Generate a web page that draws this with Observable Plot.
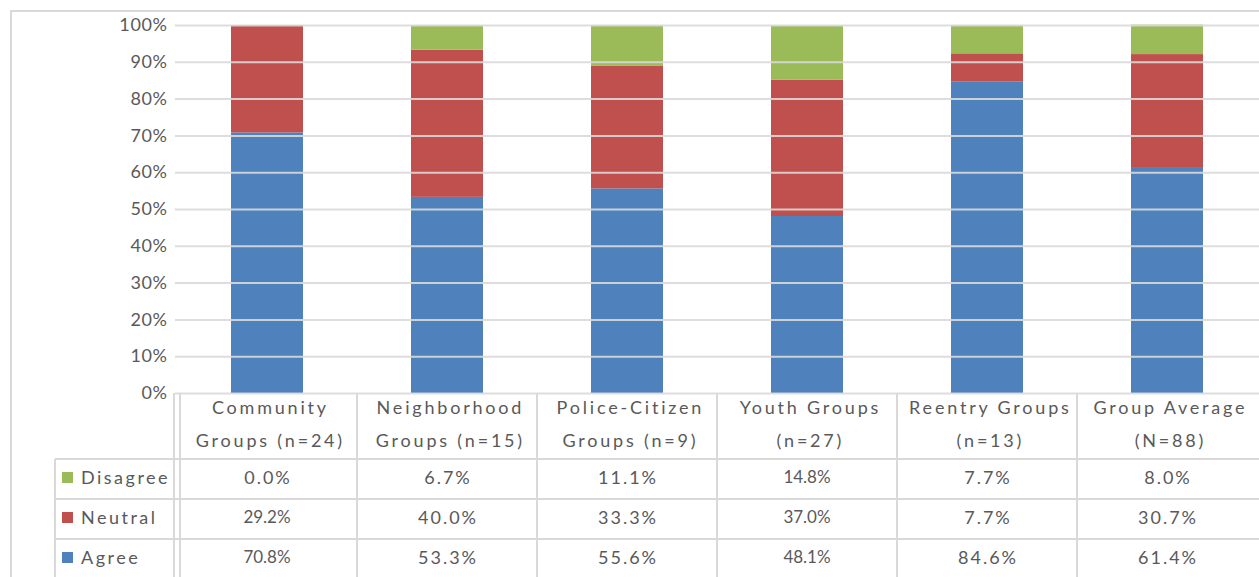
<!DOCTYPE html>
<html>
<head>
<meta charset="utf-8">
<script src="https://cdn.jsdelivr.net/npm/d3@7"></script>
<script src="https://cdn.jsdelivr.net/npm/@observablehq/plot@0.6"></script>
<style>
  html, body { margin: 0; padding: 0; background: #fff; }
  svg { display: block; }
  g[aria-label="y-axis tick label"] text { letter-spacing: 0.6px; }
</style>
</head>
<body>
<div id="chart"></div>
<script>
// Survey groups and their two-line column headers
const groups = [
  "Community Groups (n=24)",
  "Neighborhood Groups (n=15)",
  "Police-Citizen Groups (n=9)",
  "Youth Groups (n=27)",
  "Reentry Groups (n=13)",
  "Group Average (N=88)"
];
const headerLines = [
  ["Community", "Groups (n=24)"],
  ["Neighborhood", "Groups (n=15)"],
  ["Police-Citizen", "Groups (n=9)"],
  ["Youth Groups", "(n=27)"],
  ["Reentry Groups", "(n=13)"],
  ["Group Average", "(N=88)"]
];

// Response categories, stacked bottom to top
const responses = ["Agree", "Neutral", "Disagree"];
const colors = ["#4F81BD", "#C0504D", "#9BBB59"];

// Percent of respondents per group
const agree    = [70.8, 53.3, 55.6, 48.1, 84.6, 61.4];
const neutral  = [29.2, 40.0, 33.3, 37.0, 7.7, 30.7];
const disagree = [0.0, 6.7, 11.1, 14.8, 7.7, 8.0];

// Y axis ticks (percent)
const yTicks = [0, 10, 20, 30, 40, 50, 60, 70, 80, 90, 100];

const seriesValues = { Agree: agree, Neutral: neutral, Disagree: disagree };
const rows = groups.flatMap((g, i) =>
  responses.map(r => ({ group: g, response: r, value: seriesValues[r][i] }))
);

const W = 1259, H = 577;
const font = "Lato, 'Open Sans', sans-serif";
const textColor = "#595959";
const lineColor = "#d9d9d9";

const chart = Plot.plot({
  width: W,
  height: H,
  marginLeft: 175,
  marginRight: 0,
  marginTop: 25,
  marginBottom: 184,
  style: { fontFamily: font, color: textColor, background: "white" },
  x: { domain: groups, paddingInner: 0.6, paddingOuter: 0.3, axis: null },
  y: { domain: [0, 100], axis: null },
  color: { domain: responses, range: colors },
  marks: [
    Plot.barY(rows, { x: "group", y: "value", fill: "response" }),
    Plot.ruleY(yTicks, { stroke: lineColor, strokeWidth: 2, strokeOpacity: 0.9 }),
    Plot.axisY({
      ticks: yTicks,
      tickFormat: d => d + "%",
      tickSize: 0,
      tickPadding: 8,
      fontSize: 18,
      fill: textColor,
      label: null
    })
  ]
});

// Data table drawn beneath the plot, aligned to the x bands
const svg = d3.select(chart);
const x = chart.scale("x");
const y = chart.scale("y");
const center = g => x.apply(g) + x.bandwidth / 2;
const colLeft = g => center(g) - x.step / 2;
const plotLeft = colLeft(groups[0]);

const tableTop = y.apply(0);
const headerH = 66;
const rowH = 40;
const legendLeft = 55;
const tableOrder = ["Disagree", "Neutral", "Agree"];

const t = svg.append("g").attr("text-anchor", "start");

// Outer chart border
t.append("rect")
  .attr("x", 11).attr("y", 11)
  .attr("width", W).attr("height", H)
  .attr("fill", "none").attr("stroke", lineColor).attr("stroke-width", 2);

// Horizontal row separators
tableOrder.forEach((_, i) => {
  const yy = tableTop + headerH + i * rowH;
  t.append("line")
    .attr("x1", legendLeft).attr("x2", W)
    .attr("y1", yy).attr("y2", yy)
    .attr("stroke", lineColor).attr("stroke-width", 2);
});

// Column separators
groups.slice(1).forEach(g => {
  const xx = colLeft(g);
  t.append("line")
    .attr("x1", xx).attr("x2", xx)
    .attr("y1", tableTop).attr("y2", H)
    .attr("stroke", lineColor).attr("stroke-width", 2);
});
[plotLeft - 3, plotLeft + 3].forEach(xx => {
  t.append("line")
    .attr("x1", xx).attr("x2", xx)
    .attr("y1", tableTop).attr("y2", H)
    .attr("stroke", lineColor).attr("stroke-width", 2);
});
t.append("line")
  .attr("x1", legendLeft).attr("x2", legendLeft)
  .attr("y1", tableTop + headerH).attr("y2", H)
  .attr("stroke", lineColor).attr("stroke-width", 2);

// Column headers (spaced lettering)
const headerSpacing = 2.8;
groups.forEach((g, i) => {
  headerLines[i].forEach((line, j) => {
    t.append("text")
      .attr("x", center(g) + headerSpacing / 2 + 2)
      .attr("y", tableTop + 16 + j * 33)
      .attr("text-anchor", "middle")
      .attr("dominant-baseline", "middle")
      .attr("font-family", font)
      .attr("font-size", 18)
      .attr("letter-spacing", headerSpacing)
      .attr("fill", textColor)
      .text(line);
  });
});

// Legend keys and values; a few cells use tighter lettering
const condensedCells = new Set(["0-Neutral", "0-Agree", "3-Disagree", "3-Neutral", "3-Agree"]);
tableOrder.forEach((r, k) => {
  const cy = tableTop + headerH + k * rowH + rowH / 2;
  const ci = responses.indexOf(r);
  t.append("rect")
    .attr("x", 62).attr("y", cy - 7)
    .attr("width", 11).attr("height", 11)
    .attr("fill", colors[ci]);
  t.append("text")
    .attr("x", 81).attr("y", cy)
    .attr("text-anchor", "start")
    .attr("dominant-baseline", "middle")
    .attr("font-family", font)
    .attr("font-size", 18)
    .attr("letter-spacing", 2.5)
    .attr("fill", textColor)
    .text(r);
  groups.forEach((g, i) => {
    const condensed = condensedCells.has(i + "-" + r);
    const sp = condensed ? 0 : 2;
    t.append("text")
      .attr("x", center(g) + sp / 2).attr("y", cy)
      .attr("text-anchor", "middle")
      .attr("dominant-baseline", "middle")
      .attr("font-family", font)
      .attr("font-size", condensed ? 17 : 18)
      .attr("letter-spacing", sp)
      .attr("fill", textColor)
      .text(seriesValues[r][i].toFixed(1) + "%");
  });
});

document.getElementById("chart").appendChild(chart);
</script>
</body>
</html>
